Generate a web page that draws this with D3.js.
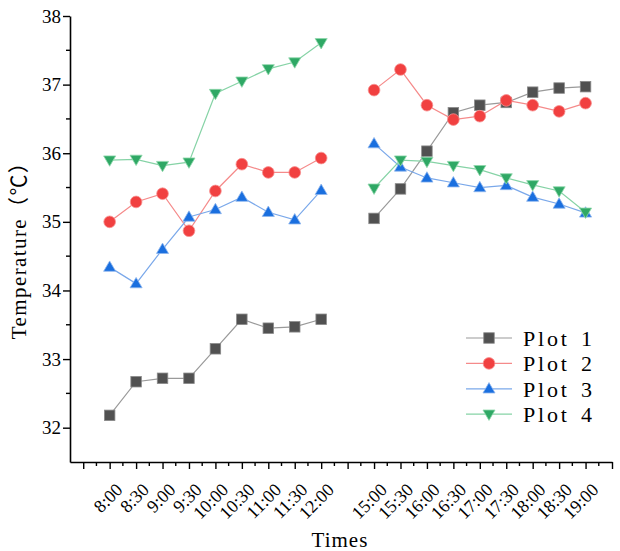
<!DOCTYPE html>
<html>
<head>
<meta charset="utf-8">
<script src="https://cdn.jsdelivr.net/npm/d3@7"></script>
<style>
  body { margin: 0; background: #fff; }
  svg { display: block; }
</style>
</head>
<body>
<div id="chart"></div>
<script>
// Time slots on the x axis ("" = empty slot, no label)
const slots = ["", "8:00", "8:30", "9:00", "9:30", "10:00", "10:30", "11:00", "11:30", "12:00",
               "", "15:00", "15:30", "16:00", "16:30", "17:00", "17:30", "18:00", "18:30", "19:00", ""];

// Temperature readings, null where the slot is empty
const plot1 = [null, 32.18, 32.67, 32.72, 32.72, 33.15, 33.58, 33.45, 33.47, 33.58,
               null, 35.05, 35.48, 36.03, 36.59, 36.70, 36.74, 36.89, 36.95, 36.97, null];
const plot2 = [null, 35.00, 35.29, 35.41, 34.87, 35.45, 35.84, 35.72, 35.72, 35.93,
               null, 36.92, 37.22, 36.70, 36.49, 36.54, 36.77, 36.70, 36.61, 36.73, null];
const plot3 = [null, 34.34, 34.10, 34.60, 35.07, 35.18, 35.36, 35.14, 35.03, 35.46,
               null, 36.14, 35.80, 35.64, 35.57, 35.50, 35.53, 35.36, 35.26, 35.13, null];
const plot4 = [null, 35.90, 35.91, 35.82, 35.87, 36.87, 37.05, 37.23, 37.33, 37.61,
               null, 35.49, 35.90, 35.88, 35.82, 35.76, 35.64, 35.54, 35.45, 35.14, null];

const yTicks = [32, 33, 34, 35, 36, 37, 38];

const series = [
    {name: "Plot 1", values: plot1, color: "#515151", line: "#9a9a9a", edge: "#8a8a8a", symbol: "square"},
    {name: "Plot 2", values: plot2, color: "#f14040", line: "#f58a8a", edge: "#f79090", symbol: "circle"},
    {name: "Plot 3", values: plot3, color: "#1a6fdf", line: "#7aa8ea", edge: "#8fb6ee", symbol: "up"},
    {name: "Plot 4", values: plot4, color: "#2fa865", line: "#86d3a6", edge: "#8fd8ac", symbol: "down"}
];

const W = 620, H = 551;
const plot = {left: 70, right: 612, top: 16, bottom: 462};
const serif = "'Liberation Serif', 'Times New Roman', serif";
const titleFont = "'Liberation Serif', 'Noto Sans CJK SC', serif";

const svg = d3.select("#chart").append("svg")
    .attr("width", W)
    .attr("height", H);

const x = d3.scaleLinear().domain([-0.5, slots.length - 1]).range([plot.left, plot.right]);
const y = d3.scaleLinear().domain([31.5, 38]).range([plot.bottom, plot.top]);

// Marker shapes
function marker(sel, s, size) {
    if (s.symbol === "square") {
        sel.append("rect")
            .attr("x", -size / 2).attr("y", -size / 2)
            .attr("width", size).attr("height", size);
    } else if (s.symbol === "circle") {
        sel.append("circle").attr("r", size / 2 + 0.6);
    } else {
        const h = size * 0.95, w = size * 1.15;
        const pts = s.symbol === "up"
            ? [[0, -h * 0.62], [w / 2, h * 0.42], [-w / 2, h * 0.42]]
            : [[0, h * 0.62], [w / 2, -h * 0.42], [-w / 2, -h * 0.42]];
        sel.append("path").attr("d", "M" + pts.join("L") + "Z");
    }
}

// X axis (major ticks at slots, minor in between)
const xAxis = svg.append("g")
    .attr("transform", `translate(0,${plot.bottom})`)
    .call(d3.axisBottom(x)
        .tickValues(d3.range(0, slots.length))
        .tickSize(7)
        .tickSizeOuter(0)
        .tickFormat(i => slots[i]));
xAxis.select(".domain").attr("stroke", "#000").attr("stroke-width", 1.6);
xAxis.selectAll(".tick line").attr("stroke", "#000").attr("stroke-width", 1.4);
xAxis.selectAll(".tick text")
    .attr("font-family", serif)
    .attr("font-size", 18)
    .attr("fill", "#000")
    .attr("text-anchor", "end")
    .attr("x", 0)
    .attr("y", 0)
    .attr("dy", 0)
    .attr("transform", "translate(13.5,29) rotate(-45)");

svg.append("g")
    .selectAll("line")
    .data(d3.range(0.5, slots.length - 1, 1))
    .join("line")
    .attr("x1", d => x(d)).attr("x2", d => x(d))
    .attr("y1", plot.bottom).attr("y2", plot.bottom + 4)
    .attr("stroke", "#000").attr("stroke-width", 1.4);

// Y axis
const yAxis = svg.append("g")
    .attr("transform", `translate(${plot.left},0)`)
    .call(d3.axisLeft(y).tickValues(yTicks).tickSize(7).tickSizeOuter(0)
        .tickPadding(2).tickFormat(d3.format("d")));
yAxis.select(".domain").attr("stroke", "#000").attr("stroke-width", 1.6);
yAxis.selectAll(".tick line").attr("stroke", "#000").attr("stroke-width", 1.4);
yAxis.selectAll(".tick text")
    .attr("font-family", serif)
    .attr("font-size", 19)
    .attr("fill", "#000");

svg.append("g")
    .selectAll("line")
    .data(d3.range(32.5, 38, 1))
    .join("line")
    .attr("x1", plot.left - 4).attr("x2", plot.left)
    .attr("y1", d => y(d)).attr("y2", d => y(d))
    .attr("stroke", "#000").attr("stroke-width", 1.4);

// Axis titles
svg.append("text")
    .attr("x", 340)
    .attr("y", 547)
    .attr("text-anchor", "middle")
    .attr("font-family", titleFont)
    .attr("font-size", 21)
    .attr("letter-spacing", 1)
    .text("Times");

svg.append("text")
    .attr("transform", `translate(25.5,${(plot.top + plot.bottom) / 2 + 6}) rotate(-90)`)
    .attr("text-anchor", "middle")
    .attr("font-family", titleFont)
    .attr("font-size", 21)
    .attr("letter-spacing", 1.4)
    .text("Temperature（℃）");

// Lines and markers
const line = d3.line()
    .defined(d => d != null)
    .x((d, i) => x(i))
    .y(d => y(d));

series.forEach(s => {
    svg.append("path")
        .datum(s.values)
        .attr("d", line)
        .attr("fill", "none")
        .attr("stroke", s.line)
        .attr("stroke-width", 1.2);

    const pts = s.values.map((v, i) => ({i, v})).filter(d => d.v != null);
    svg.append("g")
        .selectAll("g")
        .data(pts)
        .join("g")
        .attr("transform", d => `translate(${x(d.i)},${y(d.v)})`)
        .attr("fill", s.color)
        .attr("stroke", s.edge)
        .attr("stroke-width", 0.8)
        .each(function() { marker(d3.select(this), s, 10.5); });
});

// Legend
const legend = svg.append("g").attr("transform", "translate(466,338)");
series.forEach((s, k) => {
    const row = legend.append("g").attr("transform", `translate(0,${k * 25.4})`);
    row.append("line")
        .attr("x1", 0).attr("x2", 46)
        .attr("stroke", s.line).attr("stroke-width", 1.2);
    row.append("g")
        .attr("transform", "translate(23,0)")
        .attr("fill", s.color)
        .attr("stroke", s.edge)
        .attr("stroke-width", 0.8)
        .call(g => marker(g, s, 10.5));
    row.append("text")
        .attr("x", 57)
        .attr("y", 8)
        .attr("font-family", serif)
        .attr("font-size", 22)
        .attr("letter-spacing", 2.8)
        .attr("word-spacing", 3)
        .text(s.name);
});
</script>
</body>
</html>
